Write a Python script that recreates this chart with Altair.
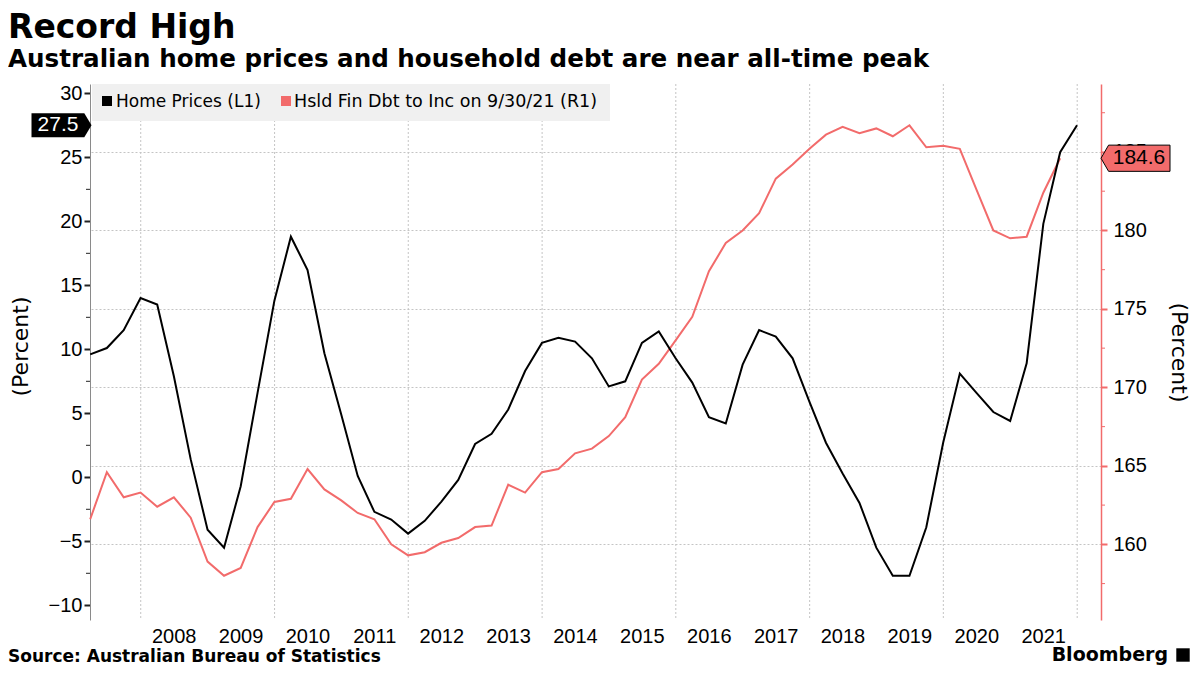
import altair as alt
import pandas as pd

# ---------------- text ----------------
TITLE = "Record High"
SUBTITLE = "Australian home prices and household debt are near all-time peak"
SOURCE = "Source: Australian Bureau of Statistics"
BRAND = "Bloomberg"
series_names = ["Home Prices (L1)", "Hsld Fin Dbt to Inc on 9/30/21 (R1)"]
axis_title = "(Percent)"

# ---------------- data ----------------
quarter_ends = [f"{y}-{md}" for y in range(2007, 2022)
                for md in ("03-31", "06-30", "09-30", "12-31")]

home_prices = [9.6, 10.1, 11.5, 14.0, 13.5, 7.9, 1.4, -4.1, -5.5, -0.7,
               6.6, 13.8, 18.8, 16.2, 9.7, 4.9, 0.1, -2.7, -3.3, -4.4,
               -3.4, -1.9, -0.2, 2.6, 3.4, 5.3, 8.3, 10.5, 10.9, 10.6,
               9.3, 7.1, 7.5, 10.5, 11.4, 9.3, 7.4, 4.7, 4.2, 8.8,
               11.5, 11.0, 9.3, 5.9, 2.7, 0.3, -2.0, -5.5, -7.7, -7.7,
               -3.9, 2.7, 8.1, 6.6, 5.1, 4.4, 8.9, 19.8, 25.4, 27.5]

debt_to_income = [161.6, 164.6, 163.0, 163.3, 162.4, 163.0, 161.7, 158.9, 158.0, 158.5,
                  161.1, 162.7, 162.9, 164.8, 163.5, 162.8, 162.0, 161.6, 160.0, 159.3,
                  159.5, 160.1, 160.4, 161.1, 161.2, 163.8, 163.3, 164.6, 164.8, 165.8,
                  166.1, 166.9, 168.1, 170.5, 171.5, 173.0, 174.5, 177.4, 179.2, 180.0,
                  181.1, 183.3, 184.2, 185.2, 186.1, 186.6, 186.2, 186.5, 186.0, 186.7,
                  185.3, 185.4, 185.2, 182.6, 180.0, 179.5, 179.6, 182.4, 184.6]

year_labels = list(range(2008, 2022))
grid_years = list(range(2008, 2023, 2))
left_major = [-10, -5, 0, 5, 10, 15, 20, 25, 30]
left_minor = [-7.5, -2.5, 2.5, 7.5, 12.5, 17.5, 22.5, 27.5]
right_major = [160, 165, 170, 175, 180, 185]
right_minor = [157.5, 162.5, 167.5, 172.5, 177.5, 182.5, 187.5]

BLACK = "#000000"
RED = "#f26b6b"
GRID = "#c4c4c4"
LABEL_FONT = "Liberation Sans"
TEXT_FONT = "DejaVu Sans"

hp = pd.DataFrame({"date": pd.to_datetime(quarter_ends), "value": home_prices})
dt = pd.DataFrame({"date": pd.to_datetime(quarter_ends[:len(debt_to_income)]),
                   "value": debt_to_income})
grid_df = pd.DataFrame({"date": pd.to_datetime([f"{y}-01-01" for y in grid_years])})
years_df = pd.DataFrame({"date": pd.to_datetime([f"{y}-07-02" for y in year_labels]),
                         "label": [str(y) for y in year_labels]})
left_minor_df = pd.DataFrame({"value": left_minor})
right_minor_df = pd.DataFrame({"value": right_minor})

# ---------------- scales / axes ----------------
x_scale = alt.Scale(domain=[alt.DateTime(year=2007, month=3, date=30),
                            alt.DateTime(year=2022, month=5, date=11)])


def left_scale():
    return alt.Scale(domain=[-11.15, 30.73], nice=False, zero=False)


def right_scale():
    return alt.Scale(domain=[155.18, 189.33], nice=False, zero=False)


left_axis = alt.Axis(orient="left", values=left_major, format="d",
                     labelFont=LABEL_FONT, labelFontSize=20, labelColor="black",
                     labelPadding=2, tickSize=6, tickWidth=2,
                     tickColor="#222222", domainColor="#8a8a8a", domainWidth=1,
                     grid=False, title=axis_title, titleFont=TEXT_FONT, titleFontSize=22,
                     titleFontWeight="normal", titleColor="black", titleAngle=270,
                     titleX=-70, titleY=262, titleAlign="center", titleBaseline="middle")

right_axis = alt.Axis(orient="right", values=right_major, format="d",
                      labelFont=LABEL_FONT, labelFontSize=20, labelColor="black",
                      labelPadding=6, tickSize=6, tickWidth=2,
                      tickColor=RED, domainColor=RED, domainWidth=1.5,
                      grid=True, gridColor=GRID, gridDash=[2, 2], gridWidth=1,
                      title=axis_title, titleFont=TEXT_FONT, titleFontSize=22,
                      titleFontWeight="normal", titleColor="black", titleAngle=90,
                      titleX=77, titleY=268, titleAlign="center", titleBaseline="middle")

x_plain = alt.X("date:T", scale=x_scale, axis=None)

# ---------------- layers ----------------
grid = alt.Chart(grid_df).mark_rule(color=GRID, strokeDash=[2, 2], strokeWidth=1).encode(x=x_plain)
year_text = alt.Chart(years_df).mark_text(font=LABEL_FONT, fontSize=20, color="black",
                                          align="center", baseline="top").encode(
    x=x_plain, y=alt.value(543), text="label:N")

RIGHT_FLAG = "M-1,0 L-0.78,-0.38 L1,-0.38 L1,0.38 L-0.78,0.38 Z"
LEFT_FLAG = "M-1,-0.4 L0.76,-0.4 L1,0 L0.76,0.4 L-1,0.4 Z"

red_line = alt.Chart(dt).mark_line(color=RED, strokeWidth=2).encode(
    x=x_plain, y=alt.Y("value:Q", scale=right_scale(), axis=right_axis))
red_minor = alt.Chart(right_minor_df).mark_rule(color=RED, strokeWidth=1).encode(
    x=alt.value(1011), x2=alt.value(1015),
    y=alt.Y("value:Q", scale=right_scale(), axis=None))
red_last = dt.tail(1)
red_flag = alt.Chart(red_last).mark_point(shape=RIGHT_FLAG, size=4761, filled=True, fill=RED,
                                          stroke="black", strokeWidth=1, opacity=1).encode(
    x=alt.value(1045.5), y=alt.Y("value:Q", scale=right_scale(), axis=None))
red_text = alt.Chart(red_last).mark_text(font=LABEL_FONT, fontSize=21, color="black",
                                         align="center", baseline="middle").encode(
    x=alt.value(1049), y=alt.Y("value:Q", scale=right_scale(), axis=None),
    text=alt.Text("value:Q", format=".1f"))

black_line = alt.Chart(hp).mark_line(color=BLACK, strokeWidth=2).encode(
    x=x_plain, y=alt.Y("value:Q", scale=left_scale(), axis=left_axis))
black_minor = alt.Chart(left_minor_df).mark_rule(color="#222222", strokeWidth=1).encode(
    x=alt.value(-4), x2=alt.value(0),
    y=alt.Y("value:Q", scale=left_scale(), axis=None))
black_last = hp.tail(1)
black_flag = alt.Chart(black_last).mark_point(shape=LEFT_FLAG, size=3600, filled=True,
                                              fill=BLACK, strokeWidth=0, opacity=1).encode(
    x=alt.value(-28.5), y=alt.Y("value:Q", scale=left_scale(), axis=None))
black_text = alt.Chart(black_last).mark_text(font=LABEL_FONT, fontSize=21, color="white",
                                             align="center", baseline="middle").encode(
    x=alt.value(-32), y=alt.Y("value:Q", scale=left_scale(), axis=None),
    text=alt.Text("value:Q", format=".1f"))

one = pd.DataFrame({"t": [""]})


def text_layer(txt, x, y, size, weight="normal", align="left", color="black",
               font=TEXT_FONT, baseline="alphabetic"):
    return alt.Chart(pd.DataFrame({"t": [txt]})).mark_text(
        align=align, baseline=baseline, fontSize=size, fontWeight=weight,
        font=font, color=color).encode(x=alt.value(x), y=alt.value(y), text="t:N")


legend_box = alt.Chart(one).mark_rect(color="#f0f0f0").encode(
    x=alt.value(2), x2=alt.value(520), y=alt.value(0), y2=alt.value(37))
legend_sq1 = alt.Chart(one).mark_square(size=100, color=BLACK, opacity=1).encode(
    x=alt.value(17), y=alt.value(17))
legend_sq2 = alt.Chart(one).mark_square(size=100, color=RED, opacity=1).encode(
    x=alt.value(196), y=alt.value(17))
legend_t1 = text_layer(series_names[0], 26, 18, 17, baseline="middle")
legend_t2 = text_layer(series_names[1], 204, 18, 17.5, baseline="middle")

title = text_layer(TITLE, -82, -46, 33, weight="bold")
subtitle = text_layer(SUBTITLE, -82, -17, 24.6, weight="bold")
source = text_layer(SOURCE, -82, 578, 17, weight="bold")
brand = text_layer(BRAND, 1078, 577, 19, weight="bold", align="right")
logo = alt.Chart(one).mark_square(size=180, color="black", opacity=1).encode(
    x=alt.value(1093), y=alt.value(571))

chart = alt.layer(
    grid, year_text, red_line, red_minor, black_line, black_minor,
    legend_box, legend_sq1, legend_sq2, legend_t1, legend_t2,
    red_flag, red_text, black_flag, black_text,
    title, subtitle, source, brand, logo,
).resolve_scale(y="independent").properties(
    width=1011, height=536,
    padding={"left": 82, "top": 76, "right": 91, "bottom": 47},
    autosize=alt.AutoSizeParams(type="none"),
    background="white",
).configure_view(stroke=None)

chart.save("out.html", embed_options={"renderer": "svg", "actions": False})
